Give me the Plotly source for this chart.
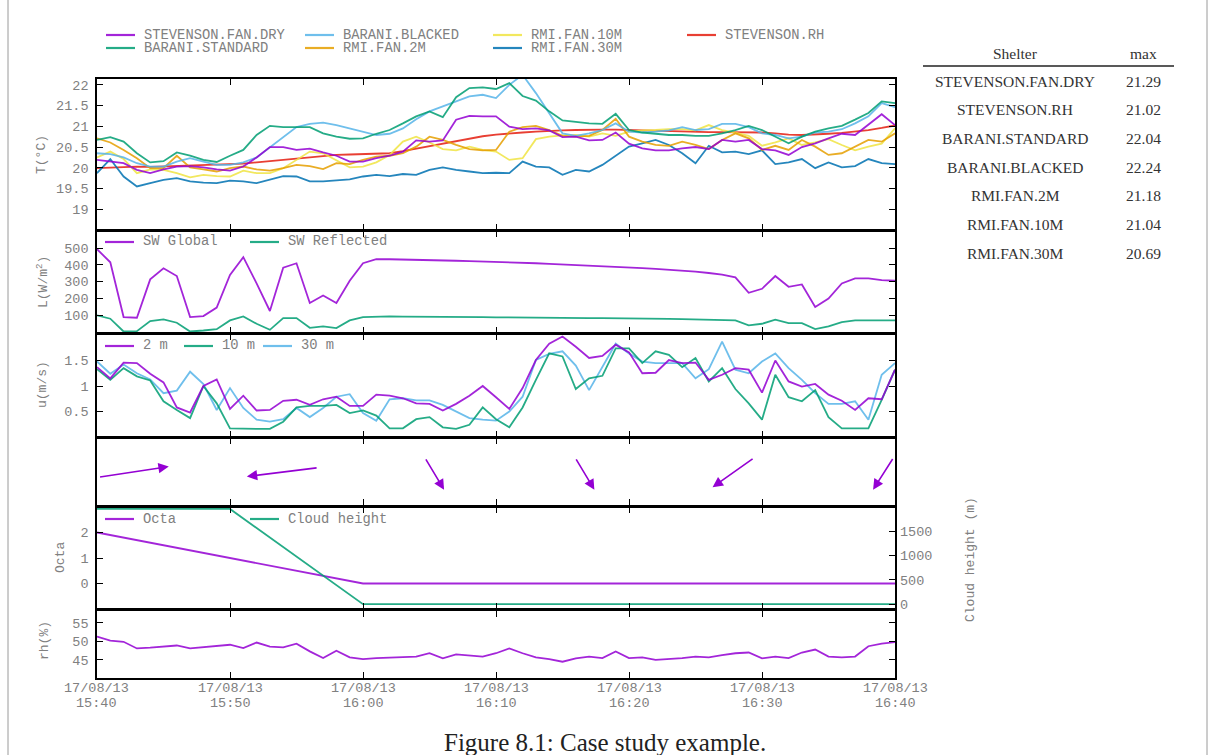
import math
import plotly.graph_objects as go

# ---------------- data ----------------
minutes = list(range(61))  # minutes after 17/08/13 15:40
x_tickvals = [0, 10, 20, 30, 40, 50, 60]
x_tick_dates = ["17/08/13"] * 7
x_tick_times = ["15:40", "15:50", "16:00", "16:10", "16:20", "16:30", "16:40"]

stevenson_fan_dry = [20.19, 20.15, 20.11, 19.95, 19.87, 19.96, 20.03, 20.04, 20.01, 19.96, 19.93, 20.03, 20.25, 20.50, 20.50,
                     20.43, 20.46, 20.37, 20.29, 20.15, 20.15, 20.23, 20.29, 20.39, 20.66, 20.63, 20.66, 21.16, 21.25, 21.24,
                     21.24, 20.99, 20.93, 20.95, 20.90, 20.74, 20.75, 20.66, 20.67, 20.85, 20.58, 20.47, 20.42, 20.42, 20.47,
                     20.50, 20.45, 20.67, 20.63, 20.67, 20.45, 20.42, 20.31, 20.50, 20.59, 20.71, 20.82, 20.79, 21.03, 21.29, 21.03]
barani_standard = [20.67, 20.74, 20.63, 20.35, 20.13, 20.16, 20.37, 20.29, 20.19, 20.14, 20.29, 20.43, 20.79, 21.01, 20.98,
                   20.98, 20.98, 20.83, 20.75, 20.70, 20.71, 20.82, 20.91, 21.07, 21.24, 21.36, 21.22, 21.70, 21.92, 21.94,
                   21.90, 22.04, 21.73, 21.62, 21.36, 21.14, 21.10, 21.07, 21.06, 21.30, 20.91, 20.85, 20.82, 20.79, 20.79,
                   20.77, 20.77, 20.83, 20.91, 21.01, 20.91, 20.75, 20.59, 20.75, 20.87, 20.95, 21.01, 21.16, 21.32, 21.60, 21.56]
barani_blacked = [20.35, 20.33, 20.25, 20.11, 20.03, 20.03, 20.15, 20.23, 20.15, 20.07, 20.07, 20.13, 20.25, 20.50, 20.75,
                  20.98, 21.06, 21.09, 21.03, 20.95, 20.87, 20.79, 20.82, 20.95, 21.17, 21.36, 21.48, 21.60, 21.72, 21.76,
                  21.68, 22.00, 22.24, 21.80, 21.32, 20.83, 20.77, 20.83, 20.91, 21.07, 20.87, 20.85, 20.87, 20.90, 20.98,
                  20.91, 20.93, 21.06, 21.06, 20.98, 20.83, 20.79, 20.71, 20.75, 20.85, 20.87, 20.93, 21.07, 21.24, 21.56, 21.46]
rmi_fan_2m = [20.71, 20.61, 20.43, 20.23, 19.99, 19.99, 20.29, 20.01, 19.96, 19.91, 19.99, 20.03, 19.96, 19.93, 19.99,
              20.07, 20.04, 19.97, 20.11, 20.09, 20.19, 20.27, 20.29, 20.35, 20.51, 20.75, 20.67, 20.55, 20.45, 20.42,
              20.43, 20.87, 20.98, 21.01, 20.91, 20.77, 20.75, 20.77, 20.91, 21.18, 20.75, 20.63, 20.55, 20.53, 20.63,
              20.55, 20.45, 20.67, 20.83, 20.71, 20.43, 20.53, 20.43, 20.67, 20.51, 20.31, 20.35, 20.50, 20.67, 20.63, 20.83]
rmi_fan_10m = [20.25, 20.39, 20.21, 19.87, 19.96, 19.95, 19.87, 19.77, 19.83, 19.80, 19.79, 19.93, 19.87, 19.87, 19.99,
               20.19, 20.39, 20.35, 20.17, 20.01, 20.03, 20.13, 20.31, 20.63, 20.75, 20.61, 20.45, 20.42, 20.51, 20.43,
               20.39, 20.19, 20.23, 20.69, 20.75, 20.78, 20.79, 20.75, 20.83, 20.77, 20.87, 20.90, 20.91, 20.93, 20.93,
               20.90, 21.03, 20.91, 20.85, 20.77, 20.53, 20.61, 20.71, 20.55, 20.61, 20.69, 20.55, 20.42, 20.51, 20.58, 20.95]
rmi_fan_30m = [19.87, 20.21, 19.79, 19.55, 19.63, 19.71, 19.75, 19.67, 19.64, 19.63, 19.69, 19.67, 19.63, 19.72, 19.80,
               19.79, 19.67, 19.67, 19.69, 19.72, 19.79, 19.83, 19.80, 19.85, 19.83, 19.95, 20.01, 19.95, 19.91, 19.87,
               19.88, 19.87, 20.15, 20.03, 20.01, 19.83, 19.95, 19.91, 20.07, 20.29, 20.51, 20.59, 20.67, 20.55, 20.35,
               20.11, 20.53, 20.37, 20.39, 20.33, 20.42, 20.09, 20.13, 20.21, 19.99, 20.13, 20.01, 20.04, 20.21, 20.11, 20.09]
stevenson_rh = [19.99, 20.00, 20.02, 20.03, 20.02, 20.03, 20.05, 20.06, 20.07, 20.07, 20.08, 20.10, 20.13, 20.16, 20.19,
                20.22, 20.25, 20.28, 20.31, 20.32, 20.33, 20.33, 20.35, 20.40, 20.46, 20.52, 20.58, 20.65, 20.71, 20.76,
                20.80, 20.83, 20.85, 20.87, 20.89, 20.90, 20.91, 20.92, 20.92, 20.92, 20.91, 20.90, 20.89, 20.88, 20.87,
                20.87, 20.86, 20.86, 20.86, 20.86, 20.85, 20.83, 20.80, 20.79, 20.80, 20.82, 20.84, 20.87, 20.91, 20.96, 21.02]

sw_global = [494, 416, 90, 86, 314, 380, 334, 90, 96, 146, 340, 446, 290, 126, 384, 410, 174, 218, 174, 306,
             410, 434, 434, 433, 432, 430, 428, 425, 423, 421, 420, 417, 414, 410, 406, 403, 400, 397, 393, 389,
             385, 381, 377, 372, 366, 360, 352, 342, 326, 234, 258, 334, 270, 284, 150, 200, 290, 320, 320, 310, 306]
sw_reflected = [100, 80, 4, 6, 66, 76, 56, 4, 10, 18, 70, 94, 50, 14, 84, 84, 26, 34, 24, 70,
                90, 94, 94, 93, 93, 92, 92, 91, 90, 89, 88, 88, 87, 87, 86, 86, 85, 84, 83, 83,
                82, 81, 80, 79, 78, 77, 76, 75, 70, 40, 50, 74, 54, 54, 18, 34, 60, 70, 70, 70, 70]

wind_2m = [1.37, 1.15, 1.46, 1.45, 1.24, 1.07, 0.58, 0.48, 1.00, 1.13, 0.55, 0.81, 0.52, 0.53, 0.71, 0.73, 0.63, 0.74,
           0.79, 0.61, 0.61, 0.83, 0.81, 0.76, 0.66, 0.65, 0.52, 0.65, 0.81, 1.00, 0.78, 0.55, 0.96, 1.51, 1.83, 1.97,
           1.77, 1.55, 1.59, 1.81, 1.66, 1.25, 1.26, 1.51, 1.45, 1.46, 1.12, 1.22, 1.35, 1.32, 0.87, 1.50, 1.09, 0.99,
           1.04, 0.83, 0.71, 0.53, 0.76, 0.74, 1.32]
wind_10m = [1.33, 1.12, 1.35, 1.19, 1.11, 0.70, 0.53, 0.37, 1.00, 0.66, 0.17, 0.16, 0.16, 0.16, 0.30, 0.58, 0.61, 0.61,
            0.63, 0.47, 0.52, 0.42, 0.17, 0.17, 0.35, 0.39, 0.19, 0.16, 0.24, 0.58, 0.35, 0.19, 0.58, 1.12, 1.64, 1.58,
            0.94, 1.15, 1.20, 1.74, 1.74, 1.45, 1.68, 1.61, 1.37, 1.55, 1.09, 1.35, 0.94, 0.66, 0.34, 1.22, 0.78, 0.70,
            0.92, 0.39, 0.17, 0.17, 0.17, 0.73, 1.32]
wind_30m = [1.48, 1.24, 1.42, 1.25, 1.13, 0.86, 0.91, 1.28, 1.04, 0.53, 0.96, 0.57, 0.34, 0.30, 0.35, 0.57, 0.39, 0.57,
            0.79, 0.84, 0.47, 0.32, 0.74, 0.76, 0.72, 0.72, 0.63, 0.50, 0.37, 0.34, 0.32, 0.50, 0.79, 1.51, 1.63, 1.68,
            1.40, 0.92, 1.38, 1.83, 1.64, 1.48, 1.45, 1.45, 1.45, 1.15, 1.33, 1.87, 1.32, 1.25, 1.48, 1.64, 1.35, 1.12,
            0.86, 0.65, 0.65, 0.70, 0.34, 1.22, 1.45]

wind_dir_times = [2.7, 14.0, 25.3, 36.6, 47.9, 59.2]
wind_dir_deg = [73, 256, 163.6, 163.6, 215, 197.5]

cloud_times = [0, 10, 20, 30, 40, 50, 60]
octa = [2, 1, 0, 0, 0, 0, 0]
cloud_height = [1960, 1960, 0, 0, 0, 0, 0]

rh = [51.3, 50.2, 49.9, 48.1, 48.3, 48.6, 48.9, 48.1, 48.4, 48.7, 49.1, 48.2, 49.7, 48.6, 48.4, 49.4, 47.3, 45.5,
      47.5, 45.7, 45.2, 45.5, 45.7, 45.9, 45.9, 46.8, 45.4, 46.5, 46.3, 45.9, 46.8, 48.1, 46.8, 45.7, 45.2, 44.5,
      45.4, 45.9, 45.5, 47.3, 45.5, 45.7, 45.0, 45.2, 45.5, 45.9, 45.7, 46.3, 46.8, 47.0, 45.4, 45.9, 45.5, 47.0,
      47.8, 45.9, 45.7, 45.9, 48.7, 49.4, 49.8]

shelters = ["STEVENSON.FAN.DRY", "STEVENSON.RH", "BARANI.STANDARD", "BARANI.BLACKED",
            "RMI.FAN.2M", "RMI.FAN.10M", "RMI.FAN.30M"]
shelter_max = ["21.29", "21.02", "22.04", "22.24", "21.18", "21.04", "20.69"]

# ---------------- style ----------------
PURPLE = "#9400d3"
GREEN = "#009e73"
LBLUE = "#56b4e9"
ORANGE = "#e69f00"
YELLOW = "#f0e442"
BLUE = "#0072b2"
RED = "#e51e10"

W, H = 1214, 755
def px(x): return x / W
def py(y): return 1 - y / H

X0, X1 = 97, 895
panels = {1: (79, 230), 2: (231, 333), 3: (334, 437), 4: (438, 506), 5: (507, 609), 6: (610, 678)}
MONO = "Liberation Mono, Courier New, monospace"
SERIF = "Liberation Serif, DejaVu Serif, serif"
GRAY = "#808080"
tickfont = dict(family=MONO, size=13.5, color=GRAY)
LW = 1.8
OP = 0.85

fig = go.Figure()

def add_line(x, y, color, xa, ya):
    fig.add_trace(go.Scatter(x=x, y=y, mode="lines", line=dict(color=color, width=LW),
                             opacity=OP, xaxis=xa, yaxis=ya, showlegend=False, hoverinfo="skip"))

temp_series = [(stevenson_rh, RED), (rmi_fan_30m, BLUE), (rmi_fan_10m, YELLOW), (rmi_fan_2m, ORANGE),
               (barani_blacked, LBLUE), (barani_standard, GREEN), (stevenson_fan_dry, PURPLE)]
for vals, col in temp_series:
    add_line(minutes, vals, col, "x", "y")

add_line(minutes, sw_global, PURPLE, "x2", "y2")
add_line(minutes, sw_reflected, GREEN, "x2", "y2")

add_line(minutes, wind_30m, LBLUE, "x3", "y3")
add_line(minutes, wind_10m, GREEN, "x3", "y3")
add_line(minutes, wind_2m, PURPLE, "x3", "y3")

# invisible trace to activate the arrow panel axes
fig.add_trace(go.Scatter(x=[0], y=[0.5], mode="markers", marker=dict(size=1, opacity=0),
                         xaxis="x4", yaxis="y4", showlegend=False, hoverinfo="skip"))

add_line(cloud_times, octa, PURPLE, "x5", "y5")
add_line(cloud_times, cloud_height, GREEN, "x5", "y7")

add_line(minutes, rh, PURPLE, "x6", "y6")

# ---------------- axes ----------------
def xax(n):
    anchor = "y" if n == 1 else f"y{n}"
    return dict(domain=[px(X0), px(X1)], range=[0, 60], anchor=anchor, showline=True, linecolor="black",
                linewidth=1.6, mirror="allticks", ticks="inside", ticklen=6, tickwidth=1.2, tickcolor="black",
                tickvals=x_tickvals, showticklabels=False, showgrid=False,
                zeroline=False, fixedrange=True, automargin=False)

def yax(n, rng, tickvals=None, ticktext=None, mirror="allticks", ticks="inside"):
    anchor = "x" if n == 1 else f"x{n}"
    top, bot = panels[n]
    d = dict(domain=[py(bot), py(top)], range=rng, anchor=anchor, showline=True, linecolor="black",
             linewidth=1.6, mirror=mirror, ticks=ticks, ticklen=6, tickwidth=1.2, tickcolor="black",
             showgrid=False, zeroline=False, tickfont=tickfont, fixedrange=True, ticklabelstandoff=4,
             automargin=False)
    if tickvals is not None:
        d["tickvals"] = tickvals
        d["ticktext"] = ticktext if ticktext is not None else [str(v) for v in tickvals]
    else:
        d["showticklabels"] = False
    return d

layout = dict(
    width=W, height=H, margin=dict(l=0, r=0, t=0, b=0, pad=0, autoexpand=False),
    paper_bgcolor="white", plot_bgcolor="white", showlegend=False,
    xaxis=xax(1), xaxis2=xax(2), xaxis3=xax(3), xaxis4=xax(4), xaxis5=xax(5), xaxis6=xax(6),
    yaxis=yax(1, [18.5, 22.14], [19, 19.5, 20, 20.5, 21, 21.5, 22],
              ["19", "19.5", "20", "20.5", "21", "21.5", "22"]),
    yaxis2=yax(2, [-5, 602], [100, 200, 300, 400, 500]),
    yaxis3=yax(3, [0, 2.02], [0.5, 1, 1.5], ["0.5", "1", "1.5"]),
    yaxis4=yax(4, [0, 1], None, mirror=True, ticks=""),
    yaxis5=yax(5, [-1.0, 3.0], [0, 1, 2], mirror=True),
    yaxis6=yax(6, [40.1, 58.5], [45, 50, 55]),
)
layout["yaxis7"] = dict(overlaying="y5", side="right", anchor="x5", range=[-100, 2000],
                        tickvals=[0, 500, 1000, 1500], ticktext=["0", "500", "1000", "1500"],
                        ticks="inside", ticklen=6, tickwidth=1.2, tickcolor="black", showline=False,
                        showgrid=False, zeroline=False, tickfont=tickfont, fixedrange=True,
                        ticklabelstandoff=4, automargin=False)
fig.update_layout(**layout)

annotations = []
shapes = []

# x tick labels (two rows under the bottom panel, placed on the x6 scale)
for tv, dlab, tlab in zip(x_tickvals, x_tick_dates, x_tick_times):
    annotations.append(dict(text=dlab, x=tv, xref="x6", y=py(688), yref="paper", showarrow=False,
                            xanchor="center", yanchor="middle", font=tickfont))
    annotations.append(dict(text=tlab, x=tv, xref="x6", y=py(703), yref="paper", showarrow=False,
                            xanchor="center", yanchor="middle", font=tickfont))

# axis titles
def ytitle(text, x, y):
    annotations.append(dict(text=text, x=px(x), y=py(y), xref="paper", yref="paper", showarrow=False,
                            textangle=-90, font=dict(family=MONO, size=13, color=GRAY),
                            xanchor="center", yanchor="middle"))

ytitle("T(°C)", 42, 155)
ytitle("L(W/m<sup>2</sup>)", 42, 282)
ytitle("u(m/s)", 42, 385)
ytitle("Octa", 60, 558)
ytitle("rh(%)", 44, 641)
ytitle("Cloud height (m)", 970, 560)

# legends
def legend_item(x0, y, color, label, length=29, gap=7, size=13.8):
    shapes.append(dict(type="line", xref="paper", yref="paper", x0=px(x0), x1=px(x0 + length),
                       y0=py(y), y1=py(y), line=dict(color=color, width=2.2), opacity=OP))
    annotations.append(dict(text=label, x=px(x0 + length + gap), y=py(y), xref="paper", yref="paper",
                            showarrow=False, xanchor="left", yanchor="middle",
                            font=dict(family=MONO, size=size, color=GRAY)))

legend_item(106, 35, PURPLE, "STEVENSON.FAN.DRY")
legend_item(106, 48, GREEN, "BARANI.STANDARD")
legend_item(305, 35, LBLUE, "BARANI.BLACKED")
legend_item(305, 48, ORANGE, "RMI.FAN.2M")
legend_item(493, 35, YELLOW, "RMI.FAN.10M")
legend_item(493, 48, BLUE, "RMI.FAN.30M")
legend_item(687, 35, RED, "STEVENSON.RH")

legend_item(105, 242, PURPLE, "SW Global")
legend_item(250, 242, GREEN, "SW Reflected")
legend_item(105, 346, PURPLE, "2 m")
legend_item(184, 346, GREEN, "10 m")
legend_item(263, 346, LBLUE, "30 m")
legend_item(105, 519, PURPLE, "Octa")
legend_item(250, 519, GREEN, "Cloud height")

# wind direction arrows
SX, SY = 5.64, 0.544
for t, d in zip(wind_dir_times, wind_dir_deg):
    u = math.sin(math.radians(d))
    v = math.cos(math.radians(d))
    annotations.append(dict(x=t + 0.5 * u * SX, y=0.5 + 0.5 * v * SY,
                            ax=t - 0.5 * u * SX, ay=0.5 - 0.5 * v * SY,
                            xref="x4", yref="y4", axref="x4", ayref="y4", text=" ",
                            showarrow=True, arrowhead=2, arrowsize=1.3, arrowwidth=1.6,
                            arrowcolor=PURPLE, standoff=0, startstandoff=0))

# table
tfont = dict(family=SERIF, size=15.5, color="#333333")
annotations.append(dict(text="Shelter", x=px(1015), y=py(53), xref="paper", yref="paper",
                        showarrow=False, font=tfont, xanchor="center", yanchor="middle"))
annotations.append(dict(text="max", x=px(1143), y=py(53), xref="paper", yref="paper",
                        showarrow=False, font=tfont, xanchor="center", yanchor="middle"))
shapes.append(dict(type="line", xref="paper", yref="paper", x0=px(923), x1=px(1174), y0=py(66), y1=py(66),
                   line=dict(color="#222222", width=1.5)))
for i, (name, val) in enumerate(zip(shelters, shelter_max)):
    yy = 81 + i * 28.7
    annotations.append(dict(text=name, x=px(1015), y=py(yy), xref="paper", yref="paper",
                            showarrow=False, font=tfont, xanchor="center", yanchor="middle"))
    annotations.append(dict(text=val, x=px(1143), y=py(yy), xref="paper", yref="paper",
                            showarrow=False, font=tfont, xanchor="center", yanchor="middle"))

# caption
annotations.append(dict(text="Figure 8.1: Case study example.", x=px(605), y=py(742), xref="paper",
                        yref="paper", showarrow=False, xanchor="center", yanchor="middle",
                        font=dict(family=SERIF, size=25, color="#222222")))

# page frame lines
for xx in (8, 1207):
    shapes.append(dict(type="line", xref="paper", yref="paper", x0=px(xx), x1=px(xx), y0=0, y1=1,
                       line=dict(color="#9a9a9a", width=1)))

fig.update_layout(annotations=annotations, shapes=shapes)
fig.write_html("out.html", config={"displayModeBar": False},
               post_script="document.body.style.margin='0';")
